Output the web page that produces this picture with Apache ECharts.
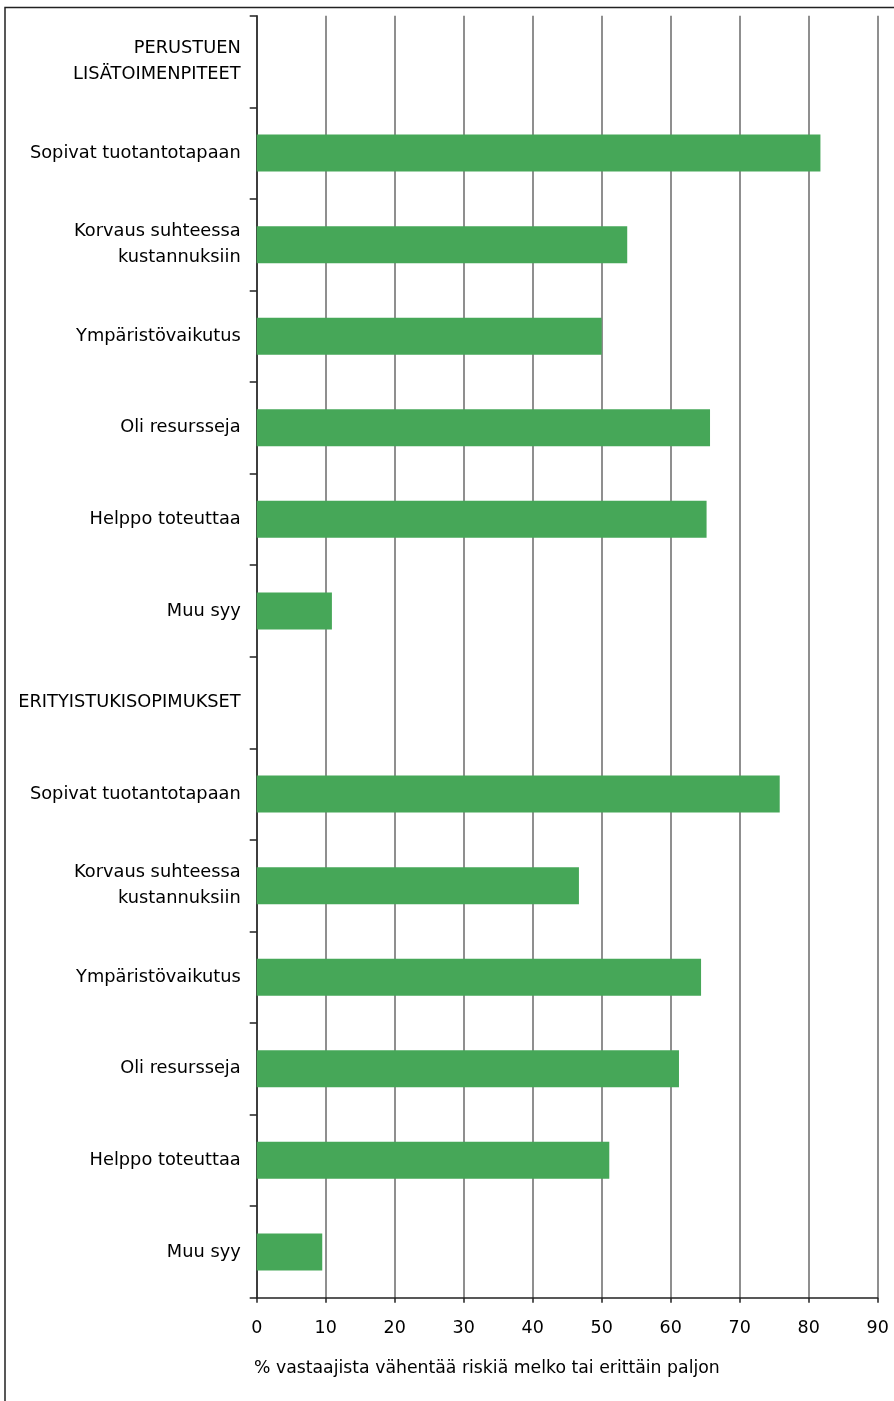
<!DOCTYPE html>
<html>
<head>
<meta charset="utf-8">
<style>
  html, body { margin: 0; padding: 0; background: #ffffff; }
  #chart { width: 894px; height: 1401px; }
</style>
<script src="https://cdn.jsdelivr.net/npm/echarts@6/dist/echarts.min.js"></script>
</head>
<body>
<div id="chart"></div>
<script>
const categories = [
  "PERUSTUEN\nLISÄTOIMENPITEET",
  "Sopivat tuotantotapaan",
  "Korvaus suhteessa\nkustannuksiin",
  "Ympäristövaikutus",
  "Oli resursseja",
  "Helppo toteuttaa",
  "Muu syy",
  "ERITYISTUKISOPIMUKSET",
  "Sopivat tuotantotapaan",
  "Korvaus suhteessa\nkustannuksiin",
  "Ympäristövaikutus",
  "Oli resursseja",
  "Helppo toteuttaa",
  "Muu syy"
];
const values = [null, 81.7, 53.7, 50.0, 65.7, 65.2, 10.9, null, 75.8, 46.7, 64.4, 61.2, 51.1, 9.5];
const xTicks = [0, 10, 20, 30, 40, 50, 60, 70, 80, 90];
const xAxisTitle = "% vastaajista vähentää riskiä melko tai erittäin paljon";

const FONT = "DejaVu Sans";
const chart = echarts.init(document.getElementById('chart'), null, { renderer: 'canvas' });
chart.setOption({
  backgroundColor: '#ffffff',
  animation: false,
  title: {
    text: xAxisTitle,
    left: 249,
    top: 1355,
    textStyle: { fontFamily: FONT, fontSize: 17.3, fontWeight: 'normal', color: '#000' }
  },
  graphic: [{
    type: 'rect',
    shape: { x: 5, y: 7.5, width: 900, height: 1410 },
    style: { fill: 'none', stroke: '#222', lineWidth: 1.5 },
    silent: true
  }],
  grid: { left: 256.7, right: 16.3, top: 15.7, bottom: 103.3, containLabel: false },
  xAxis: {
    type: 'value',
    min: xTicks[0],
    max: xTicks[xTicks.length - 1],
    interval: 10,
    axisLine: { show: true, lineStyle: { color: '#222', width: 1.5 } },
    axisTick: { show: true, length: 5, lineStyle: { color: '#222', width: 1.5 } },
    axisLabel: { fontFamily: FONT, fontSize: 17.5, color: '#000', margin: 22 },
    splitLine: { show: true, lineStyle: { color: '#6a6a6a', width: 1.5 } }
  },
  yAxis: {
    type: 'category',
    inverse: true,
    data: categories,
    axisLine: { show: true, lineStyle: { color: '#222', width: 1.5 } },
    axisTick: { show: true, length: 7, alignWithLabel: false, lineStyle: { color: '#222', width: 1.5 } },
    axisLabel: { fontFamily: FONT, fontSize: 17.8, color: '#000', margin: 16, lineHeight: 26, align: 'right' },
    splitLine: { show: false }
  },
  series: [{
    type: 'bar',
    data: values,
    barWidth: 37,
    itemStyle: { color: '#46A758' },
    silent: true
  }]
});
</script>
</body>
</html>
